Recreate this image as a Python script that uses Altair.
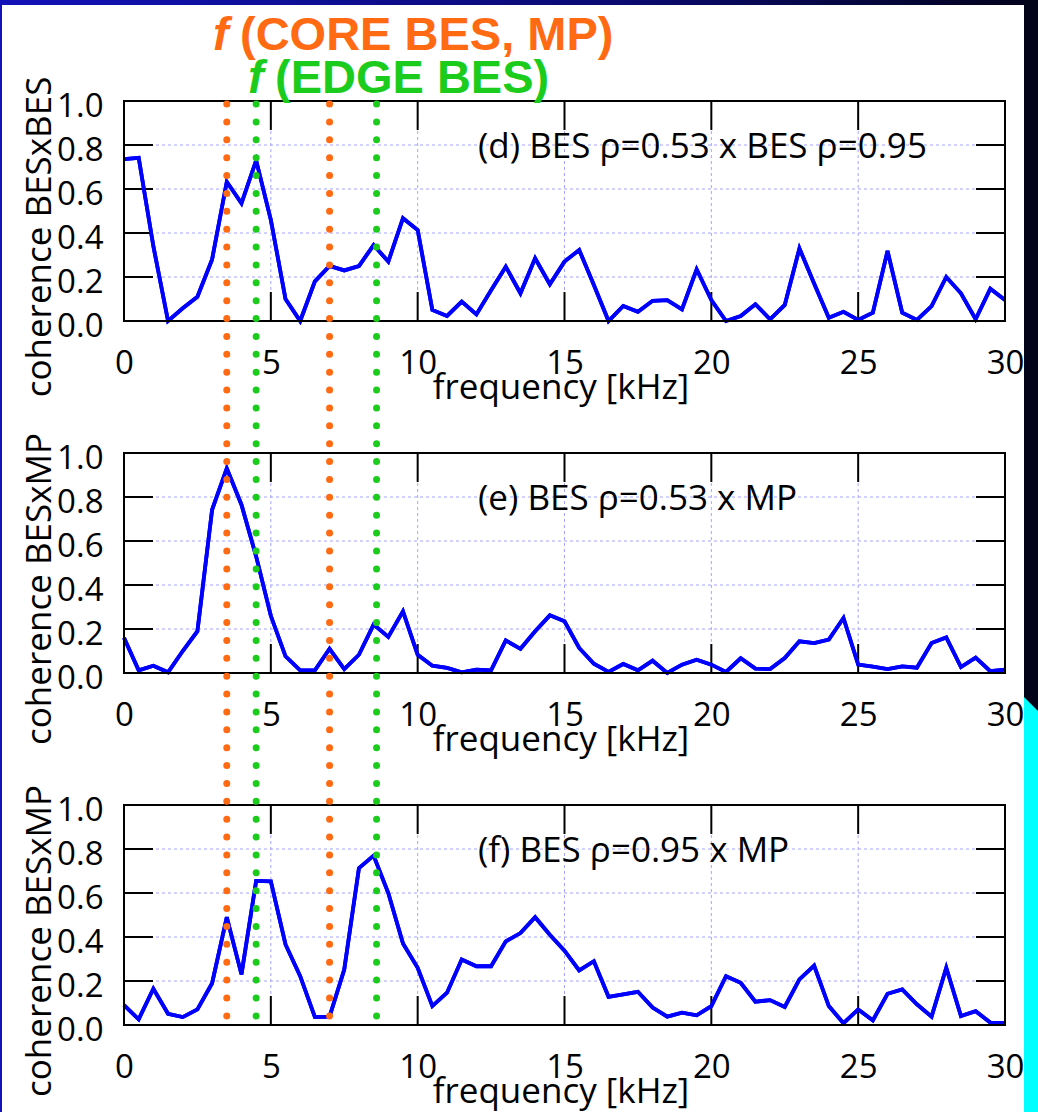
import altair as alt
import pandas as pd

# Frequency grid of the coherence spectra (kHz)
FREQ_KHZ = [0.0, 0.5, 1.0, 1.5, 2.0, 2.5, 3.0, 3.5, 4.0, 4.5, 5.0, 5.5, 6.0, 6.5, 7.0, 7.5,
            8.0, 8.5, 9.0, 9.5, 10.0, 10.5, 11.0, 11.5, 12.0, 12.5, 13.0, 13.5, 14.0, 14.5,
            15.0, 15.5, 16.0, 16.5, 17.0, 17.5, 18.0, 18.5, 19.0, 19.5, 20.0, 20.5, 21.0,
            21.5, 22.0, 22.5, 23.0, 23.5, 24.0, 24.5, 25.0, 25.5, 26.0, 26.5, 27.0, 27.5,
            28.0, 28.5, 29.0, 29.5, 30.0]

# (d) BES rho=0.53 x BES rho=0.95
COH_D = [0.736, 0.742, 0.34, 0.0, 0.058, 0.11, 0.28, 0.633, 0.535, 0.73, 0.46, 0.10,
         0.0, 0.18, 0.25, 0.23, 0.25, 0.345, 0.27, 0.467, 0.414, 0.05, 0.023, 0.088,
         0.03, 0.14, 0.247, 0.126, 0.285, 0.167, 0.27, 0.323, 0.164, 0.0, 0.068, 0.042,
         0.092, 0.095, 0.053, 0.235, 0.095, 0.0, 0.023, 0.076, 0.008, 0.073, 0.33, 0.17,
         0.015, 0.042, 0.005, 0.038, 0.318, 0.038, 0.005, 0.068, 0.2, 0.126, 0.008,
         0.147, 0.095]

# (e) BES rho=0.53 x MP
COH_E = [0.16, 0.012, 0.033, 0.003, 0.1, 0.19, 0.742, 0.93, 0.765, 0.53, 0.26, 0.076,
         0.012, 0.012, 0.11, 0.018, 0.083, 0.22, 0.164, 0.28, 0.083, 0.033, 0.023, 0.003,
         0.015, 0.012, 0.148, 0.11, 0.19, 0.262, 0.235, 0.114, 0.042, 0.005, 0.041, 0.012,
         0.056, 0.0, 0.038, 0.06, 0.038, 0.005, 0.067, 0.02, 0.018, 0.068, 0.144, 0.136,
         0.152, 0.25, 0.038, 0.029, 0.018, 0.03, 0.024, 0.136, 0.162, 0.027, 0.07, 0.008,
         0.015]

# (f) BES rho=0.95 x MP
COH_F = [0.09, 0.026, 0.165, 0.051, 0.036, 0.071, 0.19, 0.49, 0.23, 0.655, 0.653, 0.366,
         0.222, 0.036, 0.038, 0.252, 0.713, 0.77, 0.6, 0.37, 0.26, 0.086, 0.147, 0.298,
         0.267, 0.267, 0.38, 0.418, 0.49, 0.41, 0.338, 0.248, 0.29, 0.128, 0.139, 0.151,
         0.079, 0.038, 0.056, 0.044, 0.086, 0.222, 0.192, 0.106, 0.113, 0.082, 0.207, 0.27,
         0.086, 0.008, 0.071, 0.021, 0.142, 0.162, 0.094, 0.038, 0.26, 0.041, 0.063, 0.011,
         0.008]

X_TICKS = [0, 5, 10, 15, 20, 25, 30]
INNER_X_TICKS = [5, 10, 15, 20, 25]
Y_TICKS = [0.0, 0.2, 0.4, 0.6, 0.8, 1.0]
INNER_Y_TICKS = [0.2, 0.4, 0.6, 0.8]

CORE_FREQS = [3.5, 7.0]   # core BES / MP mode frequencies
EDGE_FREQS = [4.5, 8.6]   # edge BES mode frequencies

PANEL_LABELS = ["(d) BES ρ=0.53 x BES ρ=0.95", "(e) BES ρ=0.53 x MP", "(f) BES ρ=0.95 x MP"]
Y_TITLES = ["coherence BESxBES", "coherence BESxMP", "coherence BESxMP"]
X_TITLE = "frequency [kHz]"

W, H = 881, 220
BLUE = "#0000ff"
ORANGE = "#ff6a13"
GREEN = "#1ccc1c"
GRID = "#a4a4ff"
FONT = "Open Sans"
HEAD_FONT = "Liberation Sans"

x_scale = alt.Scale(domain=[0, 30], nice=False, zero=False)
y_scale = alt.Scale(domain=[0, 1], nice=False, zero=False)

# One axis definition shared by every layer, so the layered axes merge cleanly
x_axis = alt.Axis(values=X_TICKS, title=None, grid=False, domain=False, ticks=False,
                  tickSize=0, labelPadding=26, labelFlush=False, labelOverlap=False,
                  labelFont=FONT, labelFontSize=33, labelColor="black")
y_axis = alt.Axis(values=Y_TICKS, format=".1f", title=None, grid=False, domain=False,
                  ticks=False, tickSize=0, labelPadding=21, labelOffset=5,
                  labelFlush=False, labelOverlap=False,
                  labelFont=FONT, labelFontSize=33, labelColor="black")


def X(field):
    return alt.X(field, scale=x_scale, axis=x_axis)


def Y(field):
    return alt.Y(field, scale=y_scale, axis=y_axis)


def one_row(**kw):
    return pd.DataFrame({k: [v] for k, v in kw.items()})


def text_layer(txt, x, y, size=35, **mark_kw):
    return alt.Chart(one_row(t=txt)).mark_text(
        font=FONT, fontSize=size, color="black", **mark_kw
    ).encode(x=alt.value(x), y=alt.value(y), text="t:N")


def panel(values, label, ytitle, extra_front=None, extra_back=None):
    df = pd.DataFrame({"f": FREQ_KHZ, "c": values})
    xt = pd.DataFrame({"t": INNER_X_TICKS})
    yt = pd.DataFrame({"t": INNER_Y_TICKS})

    line = alt.Chart(df).mark_line(color=BLUE, strokeWidth=3.8).encode(
        x=X("f:Q"), y=Y("c:Q"))

    xgrid = alt.Chart(xt).mark_rule(color=GRID, strokeWidth=1, strokeDash=[3, 3]).encode(
        x=X("t:Q"))
    ygrid = alt.Chart(yt).mark_rule(color=GRID, strokeWidth=1, strokeDash=[3, 3]).encode(
        y=Y("t:Q"))

    tick_kw = dict(color="black", strokeWidth=2)
    xt_bot = alt.Chart(xt).mark_rule(**tick_kw).encode(
        x=X("t:Q"), y=alt.value(H - 29), y2=alt.value(H))
    xt_top = alt.Chart(xt).mark_rule(**tick_kw).encode(
        x=X("t:Q"), y=alt.value(0), y2=alt.value(29))
    yt_left = alt.Chart(yt).mark_rule(**tick_kw).encode(
        y=Y("t:Q"), x=alt.value(0), x2=alt.value(29))
    yt_right = alt.Chart(yt).mark_rule(**tick_kw).encode(
        y=Y("t:Q"), x=alt.value(W - 29), x2=alt.value(W))

    frame = alt.Chart(one_row(a=0)).mark_rect(
        fillOpacity=0, stroke="black", strokeWidth=2).encode(
        x=alt.value(0), x2=alt.value(W), y=alt.value(0), y2=alt.value(H))

    ann = text_layer(label, 354, 57, align="left", baseline="alphabetic")
    ytl = text_layer(ytitle, -73, 136, angle=270, align="center", baseline="alphabetic")
    xtl = text_layer(X_TITLE, 437, 298, align="center", baseline="alphabetic")

    layers = [line] + (extra_back or []) + [xgrid, ygrid, xt_bot, xt_top, yt_left,
                                            yt_right, line, frame, ann, ytl, xtl] \
        + (extra_front or [])
    return alt.layer(*layers).properties(width=W, height=H)


# Slide frame strips around the figure (coordinates relative to the top panel)
def strip(x1, x2, y1, y2, color):
    return alt.Chart(one_row(a=0)).mark_rect(color=color).encode(
        x=alt.value(x1), x2=alt.value(x2), y=alt.value(y1), y2=alt.value(y2))


top_band = alt.Chart(one_row(a=0)).mark_rect(
    color=alt.Gradient(gradient="linear",
                       stops=[alt.GradientStop(color="#1212b8", offset=0),
                              alt.GradientStop(color="#0a0a70", offset=0.6),
                              alt.GradientStop(color="#02021a", offset=1)],
                       x1=0, x2=1, y1=0, y2=0)
).encode(x=alt.value(-124), x2=alt.value(914), y=alt.value(-101), y2=alt.value(-96))

left_strip = strip(-124, -122, -101, 1011, "#1212b8")
right_strip = strip(900, 914, -101, 1011, "#03031a")
cyan_strip = strip(900, 914, 596, 1011, "#00ffff")
notch = alt.Chart(one_row(a=0)).mark_point(
    shape="M-1,-1 L1,1 L1,-1 Z", filled=True, color="#03031a", opacity=1, size=196
).encode(x=alt.value(907), y=alt.value(603))


def head(txt, x, y, color, italic=False):
    return alt.Chart(one_row(t=txt)).mark_text(
        font=HEAD_FONT, fontSize=47, fontWeight="bold",
        fontStyle="italic" if italic else "normal", color=color,
        align="left", baseline="alphabetic"
    ).encode(x=alt.value(x), y=alt.value(y), text="t:N")


headers = [
    head("f", 89, -51, ORANGE, italic=True),
    head("(CORE BES, MP)", 116, -51, ORANGE),
    head("f", 124, -8, GREEN, italic=True),
    head("(EDGE BES)", 151, -8, GREEN),
]


# Dotted markers at the mode frequencies, running through all three panels
def markers(freqs, color):
    return alt.Chart(pd.DataFrame({"f": freqs})).mark_rule(
        color=color, strokeWidth=7, strokeCap="round", strokeDash=[0, 17.88]
    ).encode(x=X("f:Q"), y=alt.value(-701), y2=alt.value(211))


panel_d = panel(COH_D, PANEL_LABELS[0], Y_TITLES[0],
                extra_back=[top_band, left_strip, right_strip, cyan_strip, notch],
                extra_front=headers)
panel_e = panel(COH_E, PANEL_LABELS[1], Y_TITLES[1])
panel_f = panel(COH_F, PANEL_LABELS[2], Y_TITLES[2],
                extra_front=[markers(CORE_FREQS, ORANGE), markers(EDGE_FREQS, GREEN)])

chart = alt.vconcat(panel_d, panel_e, panel_f, spacing=132, bounds="flush").resolve_scale(
    x="independent", y="independent"
).properties(padding=0, background="white").configure_view(stroke=None)

chart.save("out.html", embed_options={"renderer": "svg", "actions": False})
